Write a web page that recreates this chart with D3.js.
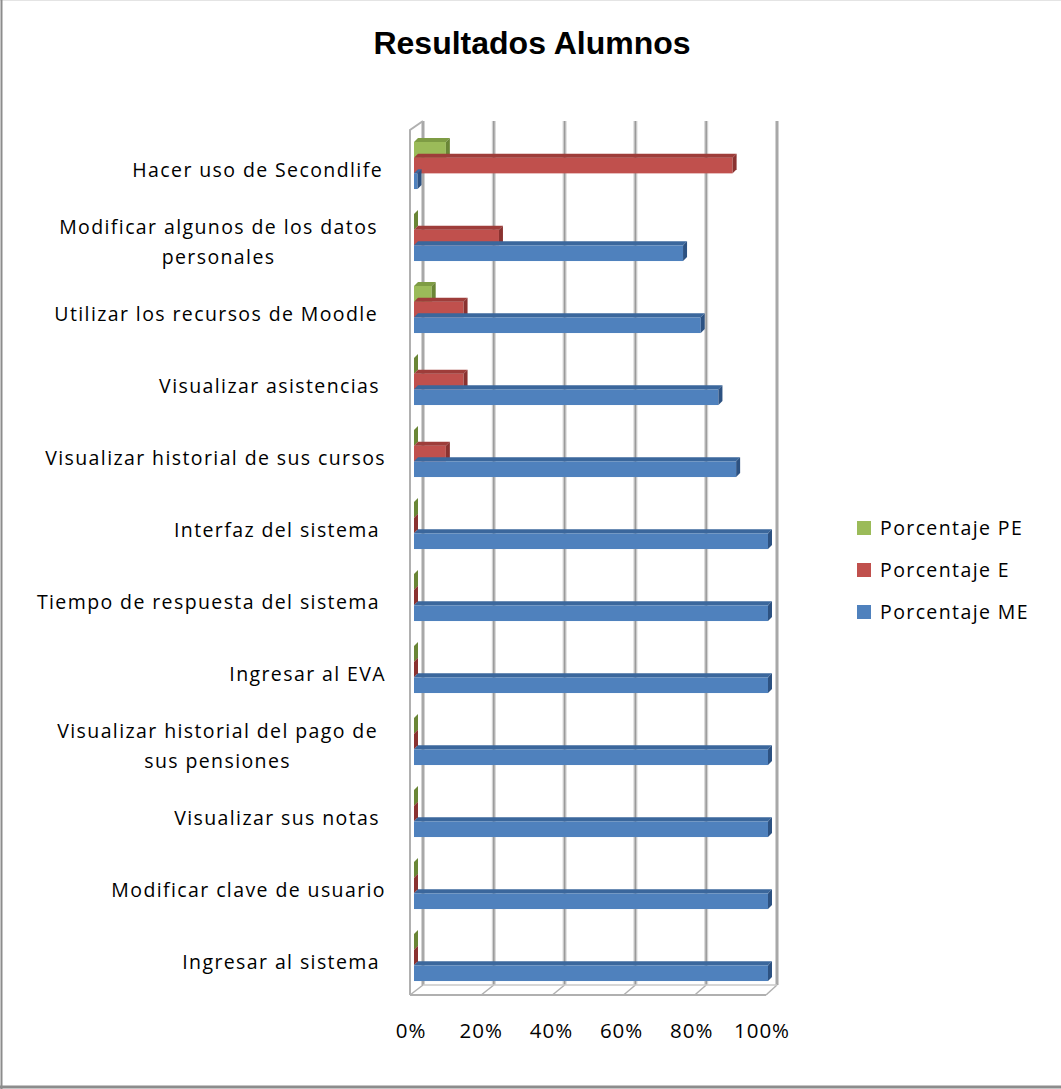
<!DOCTYPE html>
<html>
<head>
<meta charset="utf-8">
<script src="https://cdn.jsdelivr.net/npm/d3@7"></script>
<style>
  body { margin: 0; background: #fff; }
  svg { display: block; }
</style>
</head>
<body>
<svg id="chart"></svg>
<script>
// categories, top to bottom as they appear
var categories = [
  "Hacer uso de Secondlife",
  "Modificar algunos de los datos personales",
  "Utilizar los recursos de Moodle",
  "Visualizar asistencias",
  "Visualizar historial de sus cursos",
  "Interfaz del sistema",
  "Tiempo de respuesta del sistema",
  "Ingresar al EVA",
  "Visualizar historial del pago de sus pensiones",
  "Visualizar sus notas",
  "Modificar clave de usuario",
  "Ingresar al sistema"
]
// labels as Excel wrapped them
var labelLines = [
  ["Hacer uso de Secondlife"],
  ["Modificar algunos de los datos", "personales"],
  ["Utilizar los recursos de Moodle"],
  ["Visualizar asistencias"],
  ["Visualizar historial de sus cursos"],
  ["Interfaz del sistema"],
  ["Tiempo de respuesta del sistema"],
  ["Ingresar al EVA"],
  ["Visualizar historial del pago de", "sus pensiones"],
  ["Visualizar sus notas"],
  ["Modificar clave de usuario"],
  ["Ingresar al sistema"]
]
var labelRight = [383, 378, 378, 380, 386, 380, 380, 386, 378, 380, 386, 380]

var seriesNames = ["Porcentaje PE", "Porcentaje E", "Porcentaje ME"]
var pe = [0.09, 0, 0.05, 0, 0, 0, 0, 0, 0, 0, 0, 0]
var e  = [0.90, 0.24, 0.14, 0.14, 0.09, 0, 0, 0, 0, 0, 0, 0]
var me = [0.01, 0.76, 0.81, 0.86, 0.91, 1, 1, 1, 1, 1, 1, 1]
var tickValues = [0, 0.2, 0.4, 0.6, 0.8, 1]
var tickLabels = ["0%", "20%", "40%", "60%", "80%", "100%"]

var W = 1061, H = 1089
var svg = d3.select("#chart").attr("width", W).attr("height", H)

// faces: front, top, side
var palette = [
  {front: "#9BBB59", top: "#7E9C44", side: "#6A8636"},
  {front: "#C0504D", top: "#9E3D3A", side: "#8A3230"},
  {front: "#4F81BD", top: "#3B679C", side: "#2D5282"}
]

// outer frame
svg.append("line").attr("x1", 0).attr("x2", W).attr("y1", 0.5).attr("y2", 0.5)
  .attr("stroke", "#e4e4e4").attr("stroke-width", 1)
svg.append("line").attr("x1", 1.5).attr("x2", 1.5).attr("y1", 0).attr("y2", H)
  .attr("stroke", "#8c8c8c").attr("stroke-width", 2)
svg.append("line").attr("x1", 0).attr("x2", W).attr("y1", 1087).attr("y2", 1087)
  .attr("stroke", "#8c8c8c").attr("stroke-width", 3)

// title
svg.append("text")
  .attr("x", 532).attr("y", 54)
  .attr("text-anchor", "middle")
  .style("font-family", "Liberation Sans, Arial, sans-serif")
  .style("font-weight", "bold")
  .style("font-size", "32px")
  .text("Resultados Alumnos")

// scales: back wall, front floor edge, bars, tick text
var xBack = d3.scaleLinear().domain([0, 1]).range([423, 777])
var xFront = d3.scaleLinear().domain([0, 1]).range([410, 766])
var xBar = d3.scaleLinear().domain([0, 1]).range([414, 768])
var xTick = d3.scaleLinear().domain([0, 1]).range([411, 762])

var y = d3.scaleBand().domain(categories).range([129.5, 993.5])
var ySeries = d3.scaleBand().domain(seriesNames).range([0, 47])

var wallTopBack = 121, wallTopFront = 130
var floorBack = 985, floorFront = 995

// back wall gridlines
var grid = svg.append("g").attr("class", "grid")
grid.selectAll("line.g1")
  .data(tickValues)
  .enter().append("line")
  .attr("x1", d => xBack(d)).attr("x2", d => xBack(d))
  .attr("y1", wallTopBack).attr("y2", floorBack)
  .attr("stroke", "#d2d2d2").attr("stroke-width", 4)
grid.selectAll("line.g2")
  .data(tickValues)
  .enter().append("line")
  .attr("x1", d => xBack(d)).attr("x2", d => xBack(d))
  .attr("y1", wallTopBack).attr("y2", floorBack)
  .attr("stroke", "#9a9a9a").attr("stroke-width", 1.5)

// floor
var floor = svg.append("g").attr("class", "floor")
floor.selectAll("line.diag")
  .data(tickValues)
  .enter().append("line")
  .attr("x1", d => xFront(d)).attr("y1", floorFront)
  .attr("x2", d => xBack(d)).attr("y2", floorBack)
  .attr("stroke", "#b0b0b0").attr("stroke-width", 1.5)
floor.append("line")
  .attr("x1", xFront(0)).attr("x2", xFront(1)).attr("y1", floorFront).attr("y2", floorFront)
  .attr("stroke", "#b0b0b0").attr("stroke-width", 2)
floor.append("line")
  .attr("x1", xBack(0)).attr("x2", xBack(1)).attr("y1", floorBack).attr("y2", floorBack)
  .attr("stroke", "#c8c8c8").attr("stroke-width", 1.5)

// left side wall
var wall = svg.append("g").attr("class", "wall")
wall.append("path")
  .attr("d", "M" + xFront(0) + "," + floorFront + "L" + xFront(0) + "," + wallTopFront +
             "L" + xBack(0) + "," + wallTopBack)
  .attr("fill", "none").attr("stroke", "#b0b0b0").attr("stroke-width", 2)

// bars
var d = 4
var barH = 15.7
var seriesValues = [pe, e, me]

var rows = svg.append("g").attr("class", "bars")
categories.forEach(function(cat, i) {
  var g = rows.append("g")
  seriesValues.forEach(function(vals, s) {
    var v = vals[i]
    var x0 = xBar(0), x1 = xBar(v)
    var y0 = y(cat) + 12.5 + ySeries(seriesNames[s])
    var c = palette[s]
    // front
    g.append("rect")
      .attr("x", x0).attr("y", y0)
      .attr("width", Math.max(0, x1 - x0)).attr("height", barH)
      .attr("fill", c.front)
    // top
    g.append("path")
      .attr("d", "M" + x0 + "," + y0 + "L" + x1 + "," + y0 + "L" + (x1 + d) + "," + (y0 - d) +
                 "L" + (x0 + d) + "," + (y0 - d) + "Z")
      .attr("fill", c.top)
    // right side
    g.append("path")
      .attr("d", "M" + x1 + "," + y0 + "L" + (x1 + d) + "," + (y0 - d) + "L" + (x1 + d) + "," + (y0 + barH - d) +
                 "L" + x1 + "," + (y0 + barH) + "Z")
      .attr("fill", c.side)
  })
})

// category labels
var labelFont = "Open Sans, Lato, sans-serif"
var labels = svg.append("g").attr("class", "labels")
categories.forEach(function(cat, i) {
  var lines = labelLines[i]
  var cy = y(cat) + y.bandwidth() / 2
  var right = labelRight[i]
  var first = labels.append("text")
    .attr("x", right)
    .attr("y", cy + 11 - (lines.length - 1) * 15)
    .attr("text-anchor", "end")
    .style("font-family", labelFont)
    .style("font-size", "19.5px")
    .style("letter-spacing", "1.4px")
    .text(lines[0])
  if (lines.length > 1) {
    var w = first.node().getComputedTextLength()
    labels.append("text")
      .attr("x", right - w / 2)
      .attr("y", cy + 11 + 15)
      .attr("text-anchor", "middle")
      .style("font-family", labelFont)
      .style("font-size", "19.5px")
      .style("letter-spacing", "1.4px")
      .text(lines[1])
  }
})

// x tick labels
svg.append("g").attr("class", "ticks")
  .selectAll("text")
  .data(tickValues)
  .enter().append("text")
  .attr("x", (v) => xTick(v))
  .attr("y", 1038)
  .attr("text-anchor", "middle")
  .style("font-family", labelFont)
  .style("font-size", "20.5px")
  .style("letter-spacing", "1px")
  .text((v, i) => tickLabels[i])

// legend
var legend = svg.append("g").attr("class", "legend")
var legendItems = legend.selectAll("g")
  .data(seriesNames)
  .enter().append("g")
  .attr("transform", (n, i) => "translate(857," + (521 + i * 42) + ")")
legendItems.append("rect")
  .attr("width", 14).attr("height", 14)
  .attr("fill", (n, i) => palette[i].front)
legendItems.append("text")
  .attr("x", 23).attr("y", 14)
  .style("font-family", labelFont)
  .style("font-size", "19.5px")
  .style("letter-spacing", "1.4px")
  .text(n => n)
</script>
</body>
</html>
